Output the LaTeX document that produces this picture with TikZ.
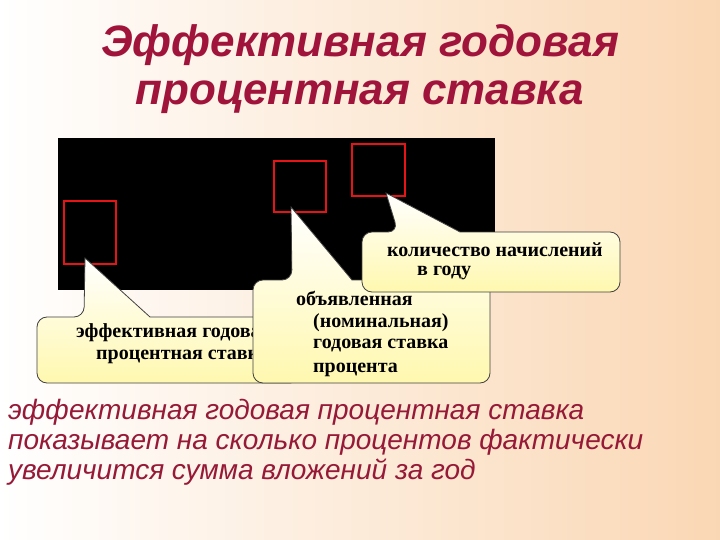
\documentclass[tikz,border=0pt]{standalone}
\usepackage{fontspec}
\setmainfont{Liberation Serif}
\setsansfont{Liberation Sans}
\begin{document}
\begin{tikzpicture}[x=1pt,y=-1pt,
  callout/.style={draw=black!75,line width=0.8pt,top color=white,bottom color={rgb,255:red,255;green,248;blue,175}},
  ctext/.style={font=\rmfamily\bfseries\fontsize{20}{24}\selectfont,anchor=west,inner sep=0},
  ttl/.style={font=\sffamily\bfseries\itshape\fontsize{44}{50}\selectfont,text={rgb,255:red,160;green,20;blue,60}},
  body/.style={font=\sffamily\itshape\fontsize{28}{34}\selectfont,text={rgb,255:red,150;green,25;blue,55},anchor=west,inner sep=0},
  sq/.style={draw={rgb,255:red,230;green,20;blue,20},line width=1.3pt}]
\useasboundingbox (0,0) rectangle (720,540);
\shade[shading angle=120,left color=white,right color={rgb,255:red,250;green,215;blue,180}] (0,0) rectangle (720,540);
\node[ttl] (t1) at (360,45) {Эффективная годовая};
\node[ttl] (t2) at (360,97) {процентная ставка};
\fill[black] (58,138) rectangle (495,290);
\draw[sq] (64,201) rectangle (116,264);
\draw[sq] (274,161) rectangle (326,212);
\draw[sq] (352,144) rectangle (405,196);
% left callout
\shade[callout,rounded corners=10pt] (84,317) [sharp corners]-- (85,258) -- (150,317) [rounded corners=10pt]-- (300,317) -- (300,383) -- (37,383) -- (37,317) -- cycle;
\node[ctext] (l1) at (76,333) {эффективная годовая};
\node[ctext] (l2) at (96,357) {процентная ставка};
% middle callout
\shade[callout,rounded corners=10pt] (292,280) [sharp corners]-- (291,207) -- (352,280) [rounded corners=10pt]-- (490,280) -- (490,383) -- (253,383) -- (253,280) -- cycle;
\node[ctext] (m1) at (296,298) {объявленная};
\node[ctext] (m2) at (313,323) {(номинальная)};
\node[ctext] (m3) at (313,346) {годовая ставка};
\node[ctext] (m4) at (313,370) {процента};
% right callout
\shade[callout,rounded corners=10pt] (398,232) [sharp corners]-- (386,193) -- (460,232) [rounded corners=10pt]-- (620,232) -- (620,292) -- (362,292) -- (362,232) -- cycle;
\node[ctext] (r1) at (387,250) {количество начислений};
\node[ctext] (r2) at (417,273) {в году};
\node[body] (b1) at (8,412) {эффективная годовая процентная ставка};
\node[body] (b2) at (8,442) {показывает на сколько процентов фактически};
\node[body] (b3) at (8,472) {увеличится сумма вложений за год};
\end{tikzpicture}
\end{document}
